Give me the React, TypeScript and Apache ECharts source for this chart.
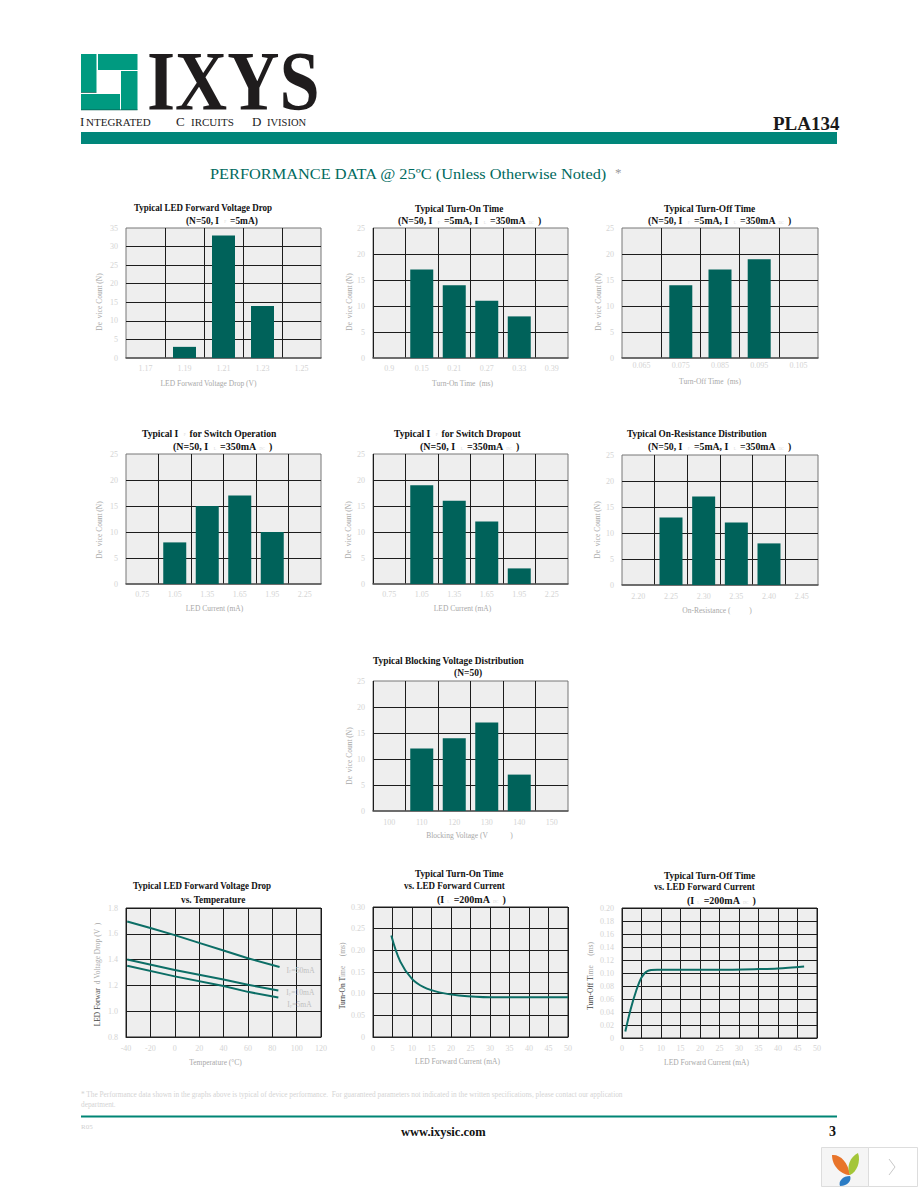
import React, { useEffect, useRef } from "react";
import * as echarts from "echarts";

// ---------- data ----------
const forwardDropCats = ["1.17", "1.19", "1.21", "1.23", "1.25"];
const forwardDropCounts = [0, 3, 33, 14, 0];
const turnOnCats = ["0.9", "0.15", "0.21", "0.27", "0.33", "0.39"];
const turnOnCounts = [0, 17, 14, 11, 8, 0];
const turnOffCats = ["0.065", "0.075", "0.085", "0.095", "0.105"];
const turnOffCounts = [0, 14, 17, 19, 0];
const operationCats = ["0.75", "1.05", "1.35", "1.65", "1.95", "2.25"];
const operationCounts = [0, 8, 15, 17, 10, 0];
const dropoutCats = ["0.75", "1.05", "1.35", "1.65", "1.95", "2.25"];
const dropoutCounts = [0, 19, 16, 12, 3, 0];
const resistanceCats = ["2.20", "2.25", "2.30", "2.35", "2.40", "2.45"];
const resistanceCounts = [0, 13, 17, 12, 8, 0];
const blockingCats = ["100", "110", "120", "130", "140", "150"];
const blockingCounts = [0, 12, 14, 17, 7, 0];

const drop50mA = [[-39, 1.695], [-20, 1.645], [0, 1.59], [20, 1.53], [40, 1.47], [60, 1.41], [86, 1.342]];
const drop10mA = [[-39, 1.4], [0, 1.32], [40, 1.245], [60, 1.205], [85, 1.16]];
const drop5mA = [[-39, 1.352], [0, 1.27], [40, 1.195], [60, 1.15], [85, 1.106]];
const turnOnCurve = [[4.7, 0.234], [7, 0.174], [10, 0.134], [13, 0.115], [17, 0.103], [22, 0.096], [30, 0.092], [40, 0.092], [50, 0.092]];
const turnOffCurve = [[0.85, 0.01], [2.2, 0.044], [3.6, 0.072], [5, 0.093], [6.5, 0.103], [9, 0.105], [24.6, 0.105], [35, 0.106], [40, 0.107], [46.7, 0.11]];

// ---------- look ----------
const SERIF = "'Liberation Serif', serif";
const TEAL_BAR = "#00625a";
const TEAL_LINE = "#0c6e66";
const TICK = "#d4d4d4";
const NAME = "#a8a8a8";
const GRID = "#1c1c1c";

const barPlots = [
  { cats: forwardDropCats, vals: forwardDropCounts, max: 35, l: 126, t: 228, w: 195, h: 130, xName: "LED Forward Voltage Drop (V)", xM: 6, xGap: 21, xShift: 15, yGap: 23, yShift: 9, dark: false },
  { cats: turnOnCats, vals: turnOnCounts, max: 25, l: 373, t: 228, w: 195, h: 130, xName: "Turn-On Time  (ms)", xM: 6, xGap: 21, xShift: 8, yGap: 19, yShift: 9, dark: true },
  { cats: turnOffCats, vals: turnOffCounts, max: 25, l: 622, t: 228, w: 196, h: 130, xName: "Turn-Off Time  (ms)", xM: 3, xGap: 19, xShift: 10, yGap: 20, yShift: 9, dark: false },
  { cats: operationCats, vals: operationCounts, max: 25, l: 126, t: 454, w: 195, h: 130, xName: "LED Current (mA)", xM: 6, xGap: 20, xShift: 9, yGap: 23, yShift: 11, dark: false },
  { cats: dropoutCats, vals: dropoutCounts, max: 25, l: 373, t: 454, w: 195, h: 130, xName: "LED Current (mA)", xM: 6, xGap: 20, xShift: 8, yGap: 21, yShift: 11, dark: true },
  { cats: resistanceCats, vals: resistanceCounts, max: 25, l: 622, t: 455, w: 196, h: 130, xName: "On-Resistance (          )", xM: 7, xGap: 21, xShift: 3, yGap: 21, yShift: 10, dark: false },
  { cats: blockingCats, vals: blockingCounts, max: 25, l: 373, t: 681, w: 195, h: 130, xName: "Blocking Voltage (V            )", xM: 7, xGap: 20, xShift: 1, yGap: 20, yShift: 10, dark: true },
];

const yNameBar = "De  vice Count (N)";

// x, centre y, horizontal squeeze, text
const titleLines: [number, number, number, string][] = [
  [134, 208, 0.9, "{b|Typical LED Forward Voltage Drop}"],
  [186, 220, 0.94, "{b|(N=50, I }{s|F}{b|=5mA)}"],
  [415, 208, 0.92, "{b|Typical Turn-On Time}"],
  [398, 220, 0.98, "{b|(N=50, I }{s|F}{b|=5mA, I }{s|L}{b|=350mA}{s|DC}{b|)}"],
  [664, 208, 0.94, "{b|Typical Turn-Off Time}"],
  [648, 220, 0.98, "{b|(N=50, I }{s|F}{b|=5mA, I }{s|L}{b|=350mA}{s|DC}{b|)}"],
  [142, 433, 0.96, "{b|Typical I }{s|F}{b|for Switch Operation}"],
  [173, 446, 1, "{b|(N=50, I }{s|L}{b|=350mA}{s|DC}{b|)}"],
  [394, 433, 0.96, "{b|Typical I }{s|F}{b|for Switch Dropout}"],
  [420, 446, 1, "{b|(N=50, I }{s|L}{b|=350mA}{s|DC}{b|)}"],
  [627, 433, 0.93, "{b|Typical On-Resistance Distribution}"],
  [648, 446, 0.98, "{b|(N=50, I }{s|F}{b|=5mA, I }{s|L}{b|=350mA}{s|DC}{b|)}"],
  [373, 660, 0.94, "{b|Typical Blocking Voltage Distribution}"],
  [454, 672, 0.95, "{b|(N=50)}"],
  [133, 886, 0.9, "{b|Typical LED Forward Voltage Drop}"],
  [181, 899, 0.93, "{b|vs. Temperature}"],
  [415, 873, 0.92, "{b|Typical Turn-On Time}"],
  [404, 886, 0.9, "{b|vs. LED Forward Current}"],
  [437, 899, 1, "{b|(I}{s|L}{b|=200mA}{s|DC}{b|)}"],
  [664, 875, 0.94, "{b|Typical Turn-Off Time}"],
  [654, 887, 0.9, "{b|vs. LED Forward Current}"],
  [687, 900, 1, "{b|(I}{s|L}{b|=200mA}{s|DC}{b|)}"],
];

const titleRich = {
  b: { fontFamily: SERIF, fontWeight: "bold", fontSize: 10, fill: "#111", lineHeight: 12 },
  s: { fontFamily: SERIF, fontSize: 4, fill: "#d8d8d8", padding: [4, 4, 0, 3], lineHeight: 12 },
};

const nameRich = {
  d: { fontFamily: SERIF, fontSize: 7.5, color: "#444" },
  l: { fontFamily: SERIF, fontSize: 7.5, color: NAME },
};

function buildOption() {
  const grid: any[] = [];
  const xAxis: any[] = [];
  const yAxis: any[] = [];
  const series: any[] = [];
  const tick = { fontFamily: SERIF, fontSize: 8, color: TICK };

  barPlots.forEach((p, i) => {
    grid.push({ left: p.l, top: p.t, width: p.w, height: p.h, show: true, backgroundColor: "#eeeeee", borderColor: "#777", borderWidth: 1 });
    xAxis.push({
      type: "category", gridIndex: i, data: p.cats,
      axisTick: { show: false }, axisLine: { show: true, lineStyle: { color: "#555", width: 1.5 } },
      axisLabel: { ...tick, margin: p.xM, interval: 0 },
      splitLine: { show: true, interval: 0, showMinLine: p.dark, showMaxLine: false, lineStyle: { color: GRID, width: 1 } },
      name: p.xName, nameLocation: "middle", nameGap: p.xGap,
      nameTextStyle: { fontFamily: SERIF, fontSize: 7.5, color: NAME, padding: [0, p.xShift * 2, 0, 0] },
    });
    yAxis.push({
      type: "value", gridIndex: i, min: 0, max: p.max, interval: 5,
      axisLine: { show: false }, axisTick: { show: false },
      axisLabel: { ...tick, margin: 8 },
      splitLine: { show: true, showMinLine: false, showMaxLine: false, lineStyle: { color: GRID, width: 1 } },
      name: yNameBar, nameLocation: "middle", nameGap: p.yGap,
      nameTextStyle: { fontFamily: SERIF, fontSize: 7.5, color: NAME, padding: [0, p.yShift * 2, 0, 0] },
    });
    series.push({ type: "bar", xAxisIndex: i, yAxisIndex: i, data: p.vals, barWidth: 23, itemStyle: { color: TEAL_BAR }, silent: true });
  });

  // line plots
  const linePlots = [
    { l: 126, t: 908, w: 195, h: 129, xMin: -40, xMax: 120, xInt: 20, yMin: 0.8, yMax: 1.8, yInt: 0.2, dec: 1, xName: "Temperature (°C)", xM: 7, xGap: 21, xShift: 8, yGap: 25, yShift: 2, yDark: "LED Forwar", yLight: "  d Voltage Drop (V  )" },
    { l: 373, t: 907, w: 195, h: 130, xMin: 0, xMax: 50, xInt: 5, yMin: 0, yMax: 0.3, yInt: 0.05, dec: 2, xName: "LED Forward Current (mA)", xM: 7, xGap: 20, xShift: 13, yGap: 27, yShift: 4, yDark: "Turn-On T", yLight: "ime     (ms)" },
    { l: 622, t: 908, w: 195, h: 130, xMin: 0, xMax: 50, xInt: 5, yMin: 0, yMax: 0.2, yInt: 0.02, dec: 2, xName: "LED Forward Current (mA)", xM: 6, xGap: 20, xShift: 13, yGap: 28, yShift: 3, yDark: "Turn-Off T", yLight: "ime     (ms)" },
  ];
  const base = barPlots.length;
  linePlots.forEach((p, k) => {
    const i = base + k;
    grid.push({ left: p.l, top: p.t, width: p.w, height: p.h, show: true, backgroundColor: "#eeeeee", borderColor: "#222", borderWidth: 1 });
    xAxis.push({
      type: "value", gridIndex: i, min: p.xMin, max: p.xMax, interval: p.xInt,
      axisTick: { show: false }, axisLine: { show: true, lineStyle: { color: "#222", width: 1 } },
      axisLabel: { ...tick, margin: p.xM },
      splitLine: { show: true, lineStyle: { color: GRID, width: 1 } },
      name: p.xName, nameLocation: "middle", nameGap: p.xGap,
      nameTextStyle: { fontFamily: SERIF, fontSize: 7.5, color: NAME, padding: [0, p.xShift * 2, 0, 0] },
    });
    yAxis.push({
      type: "value", gridIndex: i, min: p.yMin, max: p.yMax, interval: p.yInt,
      axisLine: { show: false }, axisTick: { show: false },
      axisLabel: { ...tick, margin: 8, formatter: (v: number) => (v === 0 ? "0" : v.toFixed(p.dec)) },
      splitLine: { show: true, lineStyle: { color: GRID, width: 1 } },
      name: `{d|${p.yDark}}{l|${p.yLight}}`, nameLocation: "middle", nameGap: p.yGap,
      nameTextStyle: { rich: nameRich, padding: [0, p.yShift * 2, 0, 0] },
    });
  });

  const labelRich = {
    a: { fontFamily: SERIF, fontSize: 7.5, color: "#c0c0c0" },
    s: { fontFamily: SERIF, fontSize: 4.5, color: "#cccccc", padding: [3, 0, 0, 0] },
  };
  const dropLine = (data: number[][], text: string, offset: number[]) => ({
    type: "line", xAxisIndex: base, yAxisIndex: base, data, showSymbol: false, silent: true,
    lineStyle: { color: TEAL_LINE, width: 2 },
    endLabel: { show: true, formatter: `{a|I}{s|F}{a|=${text}}`, rich: labelRich, offset, distance: 0 },
  });
  series.push(dropLine(drop50mA, "50mA", [7, 3]));
  series.push(dropLine(drop10mA, "10mA", [8, 2]));
  series.push(dropLine(drop5mA, "5mA", [9, 7]));
  series.push({ type: "line", xAxisIndex: base + 1, yAxisIndex: base + 1, data: turnOnCurve, showSymbol: false, silent: true, smooth: 0.4, lineStyle: { color: TEAL_LINE, width: 2 } });
  series.push({ type: "line", xAxisIndex: base + 2, yAxisIndex: base + 2, data: turnOffCurve, showSymbol: false, silent: true, smooth: 0.3, lineStyle: { color: TEAL_LINE, width: 2 } });

  const txt = (x: number, y: number, text: string, font: string, fill: string, extra: any = {}) => ({
    type: "text", x, y, silent: true, ...extra,
    style: { text, font, fill, verticalAlign: "middle", ...(extra.style || {}) },
  });
  const rect = (x: number, y: number, width: number, height: number, fill: string, stroke?: string) => ({
    type: "rect", silent: true, shape: { x, y, width, height }, style: { fill, stroke },
  });
  const LOGO = "#009a80";

  const titles = titleLines.map(([x, y, sx, text]) => ({
    type: "text", x, y, scaleX: sx, silent: true,
    style: { text, rich: titleRich, font: `bold 10px ${SERIF}`, fill: "#111", verticalAlign: "middle" },
  }));

  const graphic = [
    ...titles,
    // logo pinwheel
    rect(81, 54, 15.5, 38, LOGO),
    rect(98, 54, 39.5, 16, LOGO),
    rect(121, 71, 16.5, 39, LOGO),
    rect(81, 94, 39, 16, LOGO),
    rect(81, 92, 15.5, 0.8, "#0a5f52"),
    rect(81, 109.4, 56.5, 0.8, "#0a5f52"),
    txt(147, 82, "IXYS", `bold 84px ${SERIF}`, "#1f1c1d", { scaleX: 0.86 }),
    txt(80, 121, "I", `13px ${SERIF}`, "#222"),
    txt(86, 122, "NTEGRATED", `11px ${SERIF}`, "#222"),
    txt(176, 121, "C", `13px ${SERIF}`, "#222"),
    txt(191, 122, "IRCUITS", `11px ${SERIF}`, "#222"),
    txt(252, 121, "D", `13px ${SERIF}`, "#222"),
    txt(267, 122, "IVISION", `10.5px ${SERIF}`, "#222"),
    txt(773, 123, "PLA134", `bold 19px ${SERIF}`, "#1a1a1a"),
    rect(81, 132, 756, 12, "#00867a"),
    txt(210, 174, "PERFORMANCE DATA @ 25ºC (Unless Otherwise Noted)", `15px ${SERIF}`, "#006a5e", { scaleX: 1.09 }),
    txt(615, 172, "*", `13px ${SERIF}`, "#999"),
    // footer
    txt(81, 1094, "* The Performance data shown in the graphs above is typical of device performance.  For guaranteed parameters not indicated in the written specifications, please contact our application", `7.3px ${SERIF}`, "#d4d4d4"),
    txt(81, 1104, "department.", `7.3px ${SERIF}`, "#d4d4d4"),
    rect(81, 1115.5, 756, 2, "#008575"),
    txt(81, 1127, "R05", `7px ${SERIF}`, "#d0d0d0"),
    txt(401, 1132, "www.ixysic.com", `bold 12.5px ${SERIF}`, "#111"),
    txt(829, 1131, "3", `bold 14px ${SERIF}`, "#111"),
    // corner widget
    rect(821.5, 1147.5, 47, 39, "#f5f5f5", "#dddddd"),
    rect(868.5, 1147.5, 49, 39, "#ffffff", "#dddddd"),
    { type: "petalA", silent: true, x: 0, y: 0, style: { fill: "#e8742a" } },
    { type: "petalB", silent: true, x: 0, y: 0, style: { fill: "#a4c639" } },
    { type: "petalC", silent: true, x: 0, y: 0, style: { fill: "#2b7cc4" } },
    { type: "polyline", silent: true, shape: { points: [[889, 1159], [895, 1167], [889, 1175]] }, style: { stroke: "#c8c8c8", fill: "none", lineWidth: 1 } },
  ];

  return {
    animation: false,
    backgroundColor: "#ffffff",
    grid, xAxis, yAxis, series, graphic,
  };
}

echarts.graphic.registerShape("petalA", echarts.graphic.extendPath("M832 1155 C840 1154 848 1162 850 1175 C842 1175 832 1167 832 1155 Z", {}));
echarts.graphic.registerShape("petalB", echarts.graphic.extendPath("M858 1153 C861 1161 857 1172 850 1175 C846 1167 850 1157 858 1153 Z", {}));
echarts.graphic.registerShape("petalC", echarts.graphic.extendPath("M850 1176 C852 1180 848 1186 840 1186 C838 1181 843 1176 850 1176 Z", {}));

export default function App() {
  const ref = useRef<HTMLDivElement>(null);
  useEffect(() => {
    document.body.style.margin = "0";
    const chart = echarts.init(ref.current!, undefined, { renderer: "svg" });
    chart.setOption(buildOption() as any);
    return () => chart.dispose();
  }, []);
  return <div ref={ref} style={{ width: 918, height: 1188 }} />;
}
